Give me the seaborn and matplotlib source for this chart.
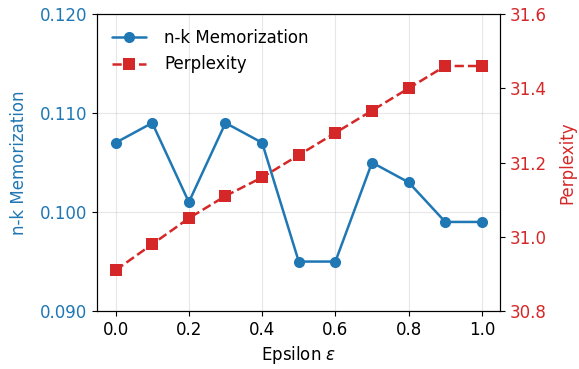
import matplotlib
matplotlib.use("Agg")
import matplotlib.pyplot as plt
import seaborn as sns
import pandas as pd

epsilon = [0.0, 0.1, 0.2, 0.3, 0.4, 0.5, 0.6, 0.7, 0.8, 0.9, 1.0]
memorization = [0.107, 0.109, 0.101, 0.109, 0.107, 0.095, 0.095, 0.105, 0.103, 0.099, 0.099]
perplexity = [30.91, 30.98, 31.05, 31.11, 31.16, 31.22, 31.28, 31.34, 31.40, 31.46, 31.46]

df = pd.DataFrame({"epsilon": epsilon, "mem": memorization, "ppl": perplexity})

sns.set_style("ticks")
plt.rcParams.update({
    "font.family": ["DejaVu Sans"],
    "font.size": 12,
    "text.color": "black",
    "axes.labelcolor": "black",
    "xtick.color": "black",
    "ytick.color": "black",
    "axes.edgecolor": "black",
})

blue = "#1f77b4"
red = "#d62728"

fig, ax1 = plt.subplots(figsize=(5.79, 3.69), dpi=100)
ax2 = ax1.twinx()

sns.lineplot(data=df, x="epsilon", y="mem", ax=ax1, color=blue, marker="o",
             markersize=8, markeredgewidth=0, linewidth=1.8,
             label="n-k Memorization", legend=False)
sns.lineplot(data=df, x="epsilon", y="ppl", ax=ax2, color=red, marker="s",
             markersize=8, markeredgewidth=0, linewidth=1.8, linestyle="--",
             label="Perplexity", legend=False)

ax1.set_ylim(0.090, 0.120)
ax1.set_yticks([0.090, 0.100, 0.110, 0.120])
ax1.set_yticklabels(["0.090", "0.100", "0.110", "0.120"])
ax2.set_ylim(30.8, 31.6)
ax2.set_yticks([30.8, 31.0, 31.2, 31.4, 31.6])
ax2.set_yticklabels(["30.8", "31.0", "31.2", "31.4", "31.6"])
ax1.set_xticks([0.0, 0.2, 0.4, 0.6, 0.8, 1.0])
ax1.set_xlim(-0.05, 1.05)

ax1.set_xlabel(r"Epsilon $\epsilon$", fontsize=12)
ax1.set_ylabel("n-k Memorization", color=blue, fontsize=12, labelpad=9)
ax2.set_ylabel("Perplexity", color=red, fontsize=12, labelpad=8)
ax1.tick_params(axis="y", labelcolor=blue, labelsize=12)
ax1.tick_params(axis="x", labelsize=12)
ax2.tick_params(axis="y", labelcolor=red, labelsize=12)

ax1.grid(True, color="#b0b0b0", alpha=0.3, linewidth=0.8)

h1, l1 = ax1.get_legend_handles_labels()
h2, l2 = ax2.get_legend_handles_labels()
ax1.legend(h1 + h2, l1 + l2, loc="upper left", frameon=False, fontsize=12,
           handletextpad=1.1)

fig.subplots_adjust(left=0.168, right=0.864, top=0.962, bottom=0.157)
fig.savefig("out.png", dpi=100)
